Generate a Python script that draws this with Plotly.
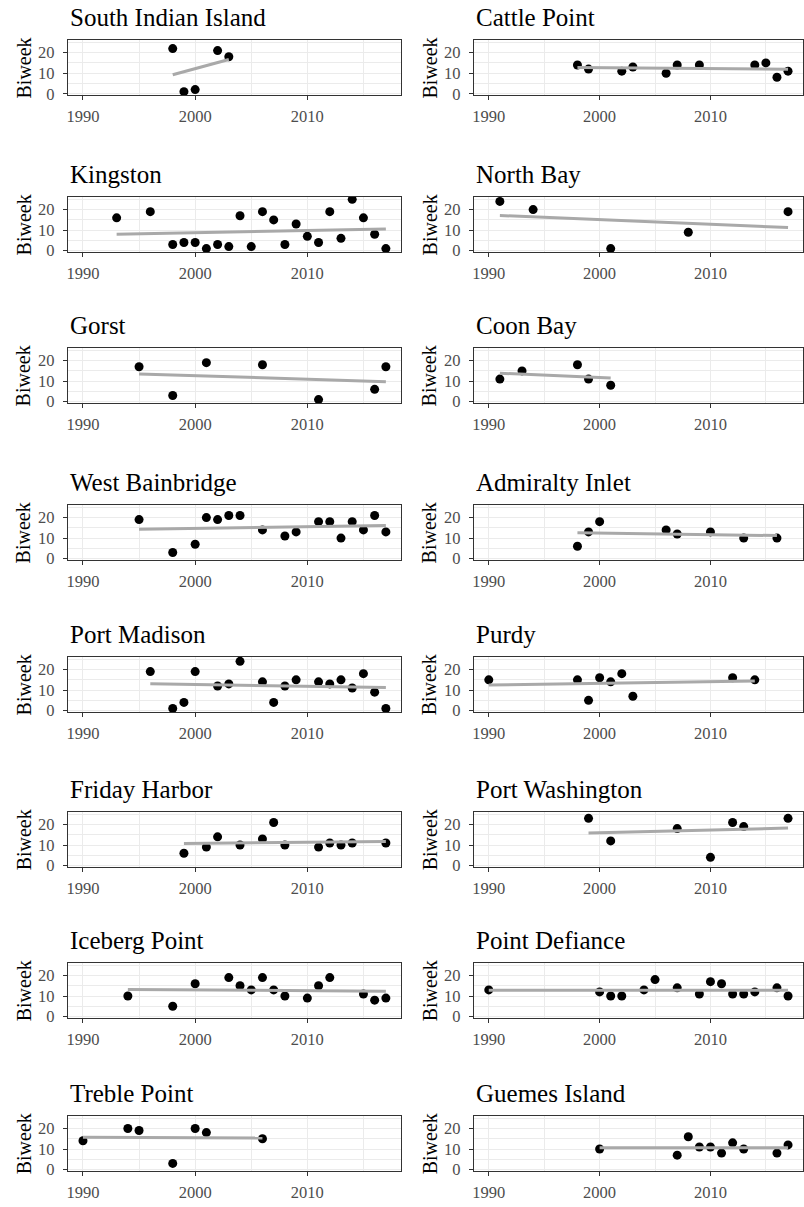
import numpy as np
import plotly.graph_objects as go

# ---------------- data (year, biweek) per site ----------------
south_indian_island_year = [1998, 1999, 2000, 2002, 2003]
south_indian_island_biweek = [22, 1, 2, 21, 18]

cattle_point_year = [1998, 1999, 2002, 2003, 2006, 2007, 2009, 2014, 2015, 2016, 2017]
cattle_point_biweek = [14, 12, 11, 13, 10, 14, 14, 14, 15, 8, 11]

kingston_year = [1993, 1996, 1998, 1999, 2000, 2001, 2002, 2003, 2004, 2005, 2006,
                 2007, 2008, 2009, 2010, 2011, 2012, 2013, 2014, 2015, 2016, 2017]
kingston_biweek = [16, 19, 3, 4, 4, 1, 3, 2, 17, 2, 19, 15, 3, 13, 7, 4, 19, 6, 25, 16, 8, 1]

north_bay_year = [1991, 1994, 2001, 2008, 2017]
north_bay_biweek = [24, 20, 1, 9, 19]

gorst_year = [1995, 1998, 2001, 2006, 2011, 2016, 2017]
gorst_biweek = [17, 3, 19, 18, 1, 6, 17]

coon_bay_year = [1991, 1993, 1998, 1999, 2001]
coon_bay_biweek = [11, 15, 18, 11, 8]

west_bainbridge_year = [1995, 1998, 2000, 2001, 2002, 2003, 2004, 2006, 2008, 2009,
                        2011, 2012, 2013, 2014, 2015, 2016, 2017]
west_bainbridge_biweek = [19, 3, 7, 20, 19, 21, 21, 14, 11, 13, 18, 18, 10, 18, 14, 21, 13]

admiralty_inlet_year = [1998, 1999, 2000, 2006, 2007, 2010, 2013, 2016]
admiralty_inlet_biweek = [6, 13, 18, 14, 12, 13, 10, 10]

port_madison_year = [1996, 1998, 1999, 2000, 2002, 2003, 2004, 2006, 2007, 2008, 2009,
                     2011, 2012, 2013, 2014, 2015, 2016, 2017]
port_madison_biweek = [19, 1, 4, 19, 12, 13, 24, 14, 4, 12, 15, 14, 13, 15, 11, 18, 9, 1]

purdy_year = [1990, 1998, 1999, 2000, 2001, 2002, 2003, 2012, 2014]
purdy_biweek = [15, 15, 5, 16, 14, 18, 7, 16, 15]

friday_harbor_year = [1999, 2001, 2002, 2004, 2006, 2007, 2008, 2011, 2012, 2013, 2014, 2017]
friday_harbor_biweek = [6, 9, 14, 10, 13, 21, 10, 9, 11, 10, 11, 11]

port_washington_year = [1999, 2001, 2007, 2010, 2012, 2013, 2017]
port_washington_biweek = [23, 12, 18, 4, 21, 19, 23]

iceberg_point_year = [1994, 1998, 2000, 2003, 2004, 2005, 2006, 2007, 2008, 2010,
                      2011, 2012, 2015, 2016, 2017]
iceberg_point_biweek = [10, 5, 16, 19, 15, 13, 19, 13, 10, 9, 15, 19, 11, 8, 9]

point_defiance_year = [1990, 2000, 2001, 2002, 2004, 2005, 2007, 2009, 2010, 2011,
                       2012, 2013, 2014, 2016, 2017]
point_defiance_biweek = [13, 12, 10, 10, 13, 18, 14, 11, 17, 16, 11, 11, 12, 14, 10]

treble_point_year = [1990, 1994, 1995, 1998, 2000, 2001, 2006]
treble_point_biweek = [14, 20, 19, 3, 20, 18, 15]

guemes_island_year = [2000, 2007, 2008, 2009, 2010, 2011, 2012, 2013, 2016, 2017]
guemes_island_biweek = [10, 7, 16, 11, 11, 8, 13, 10, 8, 12]

site_names = ["South Indian Island", "Cattle Point", "Kingston", "North Bay",
              "Gorst", "Coon Bay", "West Bainbridge", "Admiralty Inlet",
              "Port Madison", "Purdy", "Friday Harbor", "Port Washington",
              "Iceberg Point", "Point Defiance", "Treble Point", "Guemes Island"]
site_years = [south_indian_island_year, cattle_point_year, kingston_year, north_bay_year,
              gorst_year, coon_bay_year, west_bainbridge_year, admiralty_inlet_year,
              port_madison_year, purdy_year, friday_harbor_year, port_washington_year,
              iceberg_point_year, point_defiance_year, treble_point_year, guemes_island_year]
site_biweeks = [south_indian_island_biweek, cattle_point_biweek, kingston_biweek, north_bay_biweek,
                gorst_biweek, coon_bay_biweek, west_bainbridge_biweek, admiralty_inlet_biweek,
                port_madison_biweek, purdy_biweek, friday_harbor_biweek, port_washington_biweek,
                iceberg_point_biweek, point_defiance_biweek, treble_point_biweek, guemes_island_biweek]

x_ticks = [1990, 2000, 2010]
x_minor = [1995, 2005, 2015]
y_ticks = [0, 10, 20]
y_minor = [5, 15, 25]

# ---------------- layout geometry (pixels) ----------------
W, H = 804, 1207
col_x = [(66, 400), (473, 803)]
row_top = [40, 198, 350, 508, 661, 817, 969, 1123]
panel_h = 56
ylab_x = [22, 429]
FONT = "Liberation Serif"

fig = go.Figure()
annotations = []
layout_axes = {}

for i, name in enumerate(site_names):
    r, c = divmod(i, 2)
    k = i + 1
    xs = np.array(site_years[i], dtype=float)
    ys = np.array(site_biweeks[i], dtype=float)
    xname = "x" if k == 1 else f"x{k}"
    yname = "y" if k == 1 else f"y{k}"

    fig.add_trace(go.Scatter(x=xs, y=ys, mode="markers", xaxis=xname, yaxis=yname,
                             marker=dict(color="black", size=9), showlegend=False,
                             hoverinfo="x+y"))
    slope, inter = np.polyfit(xs, ys, 1)
    lx = np.array([xs.min(), xs.max()])
    fig.add_trace(go.Scatter(x=lx, y=slope * lx + inter, mode="lines", xaxis=xname, yaxis=yname,
                             line=dict(color="#A9A9A9", width=3), showlegend=False,
                             hoverinfo="skip"))

    x0, x1 = col_x[c]
    top = row_top[r]
    xdom = [x0 / W, x1 / W]
    ydom = [1 - (top + panel_h) / H, 1 - top / H]
    common = dict(showline=True, mirror=True, linecolor="#333333", linewidth=1,
                  ticks="outside", ticklen=4, tickcolor="#333333", tickwidth=1,
                  showgrid=True, gridcolor="#EBEBEB", gridwidth=1.1, zeroline=False,
                  tickfont=dict(family=FONT, size=16.5, color="#4D4D4D"), fixedrange=True)
    layout_axes["xaxis" if k == 1 else f"xaxis{k}"] = dict(
        domain=xdom, range=[1988.65, 2018.35], anchor=yname, tickmode="array",
        tickvals=x_ticks, ticktext=[str(v) for v in x_ticks], ticklabelstandoff=2,
        minor=dict(tickvals=x_minor, showgrid=True, gridcolor="#EBEBEB", gridwidth=0.6, ticks=""),
        **common)
    layout_axes["yaxis" if k == 1 else f"yaxis{k}"] = dict(
        domain=ydom, range=[-0.8, 26.3], anchor=xname, tickmode="array",
        tickvals=y_ticks, ticktext=[str(v) for v in y_ticks], ticklabelstandoff=5,
        minor=dict(tickvals=y_minor, showgrid=True, gridcolor="#EBEBEB", gridwidth=0.6, ticks=""),
        **common)

    annotations.append(dict(text=name, x=x0 / W, y=1 - (top - 7) / H, xref="paper", yref="paper",
                            xanchor="left", yanchor="bottom", showarrow=False,
                            font=dict(family=FONT, size=25, color="black")))
    annotations.append(dict(text="Biweek", x=ylab_x[c] / W, y=1 - (top + panel_h / 2) / H,
                            xref="paper", yref="paper", xanchor="center", yanchor="middle",
                            textangle=-90, showarrow=False,
                            font=dict(family=FONT, size=20, color="black")))

fig.update_layout(width=W, height=H, margin=dict(l=0, r=0, t=0, b=0),
                  paper_bgcolor="white", plot_bgcolor="white",
                  annotations=annotations, **layout_axes)

fig.write_html("out.html")
